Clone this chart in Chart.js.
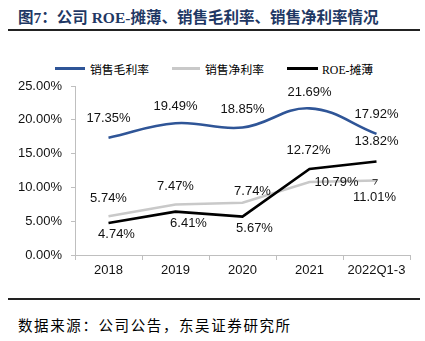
<!DOCTYPE html>
<html>
<head>
<meta charset="utf-8">
<script src="https://cdn.jsdelivr.net/npm/chart.js@4"></script>
<style>
  html, body { margin: 0; padding: 0; background: #fff; }
  #page { position: relative; width: 425px; height: 341px; overflow: hidden; }
  #title {
    position: absolute; left: 18px; top: 5px;
    font: bold 15.5px "Liberation Serif", "Noto Sans CJK SC", serif;
    color: #1f3864; white-space: nowrap;
  }
  .rule { position: absolute; left: 8px; width: 412px; background: #222; }
  #legend { position: absolute; top: 60px; left: 0; width: 425px; height: 16px; }
  .lg-line { position: absolute; top: 7px; height: 2.5px; }
  .lg-text {
    position: absolute; top: 0; line-height: 16px;
    font: 11.8px "Liberation Serif", "Noto Sans CJK SC", serif; color: #000; white-space: nowrap;
  }
  #chart-wrap { position: absolute; left: 0; top: 40px; width: 425px; height: 245px; }
  #source {
    position: absolute; left: 18px; top: 314px;
    font: 14.5px "Noto Sans CJK SC", sans-serif; color: #000; white-space: nowrap;
    letter-spacing: 1.6px;
  }
</style>
</head>
<body>
<div id="page">
  <div id="title">图7：公司 ROE-摊薄、销售毛利率、销售净利率情况</div>
  <div class="rule" style="top:29px;height:2px"></div>
  <div id="legend">
    <div class="lg-line" style="left:55px;width:30px;background:#2f5597"></div>
    <div class="lg-text" style="left:90px">销售毛利率</div>
    <div class="lg-line" style="left:172px;width:28px;background:#c9c9c9"></div>
    <div class="lg-text" style="left:205px">销售净利率</div>
    <div class="lg-line" style="left:287px;width:31px;background:#000"></div>
    <div class="lg-text" style="left:322px">ROE-摊薄</div>
  </div>
  <div id="chart-wrap"><canvas id="chart"></canvas></div>
  <div class="rule" style="top:298px;height:2px"></div>
  <div id="source">数据来源：公司公告，东吴证券研究所</div>
</div>

<script>
// Years shown on the x axis
const categories = ['2018', '2019', '2020', '2021', '2022Q1-3'];

// Ratios in percent
const grossMargin = [17.35, 19.49, 18.85, 21.69, 17.92];
const netMargin   = [5.74, 7.47, 7.74, 10.79, 11.01];
const roeDiluted  = [4.74, 6.41, 5.67, 12.72, 13.82];

// Y axis range / step (percent)
const yMin = 0, yMax = 25, yStep = 5;

// Label offsets from each point, [dx, dy] in px
const grossOffsets = [[0, -19], [0, -17], [0, -18], [0, -16], [0, -19]];
const netOffsets   = [[0, -18], [0, -18], [10, -11], [27, 0], [-2, 17]];
const roeOffsets   = [[8, 11], [13, 12], [12, 12], [-1, -19], [0, -20]];

const pct = v => v.toFixed(2) + '%';

// draws the value next to each point
const valueLabels = {
    id: 'valueLabels',
    afterDatasetsDraw(chart) {
        const ctx = chart.ctx;
        ctx.save();
        ctx.font = '13px "Liberation Sans", Arial, sans-serif';
        ctx.fillStyle = '#111';
        ctx.textAlign = 'center';
        ctx.textBaseline = 'middle';
        chart.data.datasets.forEach((ds, di) => {
            const meta = chart.getDatasetMeta(di);
            meta.data.forEach((pt, i) => {
                const [dx, dy] = ds.labelOffsets[i];
                ctx.fillText(pct(ds.data[i]), pt.x + dx, pt.y + dy);
            });
        });

        // short leader for the last net-margin label, which sits below its point
        const last = chart.getDatasetMeta(1).data[netMargin.length - 1];
        ctx.strokeStyle = '#333';
        ctx.lineWidth = 1;
        ctx.beginPath();
        ctx.moveTo(last.x - 4, last.y - 1);
        ctx.lineTo(last.x + 1, last.y - 1);
        ctx.lineTo(last.x - 2, last.y + 4);
        ctx.stroke();
        ctx.restore();
    }
};

Chart.defaults.font.family = '"Liberation Sans", Arial, sans-serif';
Chart.defaults.font.size = 13;
Chart.defaults.color = '#111';

new Chart(document.getElementById('chart'), {
    type: 'line',
    data: {
        labels: categories,
        datasets: [
            { label: '销售毛利率', data: grossMargin, borderColor: '#2f5597', borderWidth: 2.6,
              tension: 0.4, order: 1, labelOffsets: grossOffsets },
            { label: '销售净利率', data: netMargin, borderColor: '#c9c9c9', borderWidth: 2.6,
              tension: 0, order: 2, labelOffsets: netOffsets },
            { label: 'ROE-摊薄', data: roeDiluted, borderColor: '#000', borderWidth: 2.6,
              tension: 0, order: 0, labelOffsets: roeOffsets }
        ]
    },
    options: {
        responsive: true,
        maintainAspectRatio: false,
        animation: false,
        elements: { point: { radius: 0, hoverRadius: 0 } },
        layout: { padding: { top: 46, right: 15, left: 0, bottom: 0 } },
        plugins: { legend: { display: false }, tooltip: { enabled: false } },
        scales: {
            x: {
                offset: true,
                afterFit: s => { s.height = 30; },
                grid: { offset: true, drawOnChartArea: false, tickLength: 5, color: '#bfbfbf' },
                border: { color: '#bfbfbf' },
                ticks: { padding: 3, maxRotation: 0 }
            },
            y: {
                min: yMin, max: yMax,
                afterFit: s => { s.width = 75; },
                grid: { drawOnChartArea: false, tickLength: 4, color: '#bfbfbf' },
                border: { color: '#bfbfbf' },
                ticks: { stepSize: yStep, padding: 9, callback: v => pct(v) }
            }
        }
    },
    plugins: [valueLabels]
});
</script>
</body>
</html>
